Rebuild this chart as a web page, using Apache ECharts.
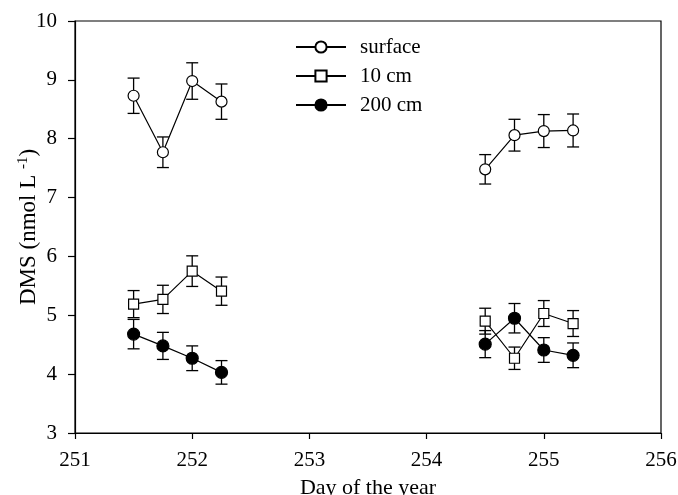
<!DOCTYPE html>
<html>
<head>
<meta charset="utf-8">
<script src="https://cdn.jsdelivr.net/npm/echarts@6/dist/echarts.min.js"></script>
<style>
  html, body { margin: 0; padding: 0; background: #fff; }
  #chart { width: 678px; height: 495px; }
</style>
</head>
<body>
<div id="chart"></div>
<script>
const days = [251.5, 251.75, 252, 252.25, 254.5, 254.75, 255, 255.25];
const surface = [8.73, 7.77, 8.98, 8.63, 7.48, 8.06, 8.13, 8.14];
const surfaceErr = [0.30, 0.26, 0.31, 0.30, 0.25, 0.27, 0.28, 0.28];
const cm10 = [5.19, 5.27, 5.75, 5.41, 4.90, 4.27, 5.03, 4.86];
const cm10Err = [0.23, 0.24, 0.26, 0.24, 0.22, 0.19, 0.22, 0.22];
const cm200 = [4.68, 4.48, 4.27, 4.03, 4.51, 4.95, 4.41, 4.32];
const cm200Err = [0.25, 0.23, 0.21, 0.20, 0.23, 0.25, 0.21, 0.21];
// the two sampling periods are drawn as separate line pieces
const groups = [[0, 4], [4, 8]];

const FONT = 'Liberation Serif';
const chart = echarts.init(document.getElementById('chart'));

const depths = [
  { name: 'surface', vals: surface, err: surfaceErr, symbol: 'circle', size: 11, fill: '#fff' },
  { name: '10 cm', vals: cm10, err: cm10Err, symbol: 'rect', size: 10, fill: '#fff' },
  { name: '200 cm', vals: cm200, err: cm200Err, symbol: 'circle', size: 12, fill: '#000' }
];

function errorBars(vals, err) {
  return {
    type: 'custom',
    z: 1,
    silent: true,
    data: days.map((d, i) => [d, vals[i] - err[i], vals[i] + err[i]]),
    renderItem: function (params, api) {
      const lo = api.coord([api.value(0), api.value(1)]);
      const hi = api.coord([api.value(0), api.value(2)]);
      const w = 6;
      const st = { stroke: '#000', lineWidth: 1.3 };
      return {
        type: 'group',
        children: [
          { type: 'line', shape: { x1: lo[0], y1: lo[1], x2: hi[0], y2: hi[1] }, style: st },
          { type: 'line', shape: { x1: lo[0] - w, y1: lo[1], x2: lo[0] + w, y2: lo[1] }, style: st },
          { type: 'line', shape: { x1: hi[0] - w, y1: hi[1], x2: hi[0] + w, y2: hi[1] }, style: st }
        ]
      };
    }
  };
}

const series = [];
depths.forEach(dp => {
  series.push(errorBars(dp.vals, dp.err));
  groups.forEach(g => {
    series.push({
      name: dp.name,
      type: 'line',
      z: 3,
      symbol: dp.symbol,
      symbolSize: dp.size,
      showAllSymbol: true,
      data: days.slice(g[0], g[1]).map((d, i) => [d, dp.vals[g[0] + i]]),
      lineStyle: { color: '#000', width: 1.2 },
      itemStyle: { color: dp.fill, borderColor: '#000', borderWidth: 1.2 },
      emphasis: { disabled: true }
    });
  });
});

chart.setOption({
  animation: false,
  grid: {
    left: 75, right: 17, top: 21, bottom: 62,
    outerBoundsMode: 'none',
    show: true, borderColor: '#000', borderWidth: 1.2
  },
  legend: {
    data: depths.map(d => d.name),
    orient: 'vertical',
    left: 295,
    top: 35,
    padding: 0,
    itemWidth: 50,
    itemHeight: 14,
    itemGap: 5,
    textStyle: { fontFamily: FONT, fontSize: 21, color: '#000', padding: [0, 0, 0, 9], lineHeight: 24 }
  },
  xAxis: {
    type: 'value',
    min: 251, max: 256, interval: 1,
    name: 'Day of the year',
    nameLocation: 'middle',
    nameGap: 44,
    nameMoveOverlap: false,
    nameTextStyle: { fontFamily: FONT, fontSize: 22, color: '#000' },
    axisLine: { show: true, lineStyle: { color: '#000', width: 1.2 } },
    axisTick: { show: true, length: 6, lineStyle: { color: '#000', width: 1.2 } },
    axisLabel: { fontFamily: FONT, fontSize: 21, color: '#000', margin: 17 },
    splitLine: { show: false }
  },
  yAxis: {
    type: 'value',
    min: 3, max: 10, interval: 1,
    name: 'DMS (nmol L {sup|-1})',
    nameLocation: 'middle',
    nameGap: 34,
    nameMoveOverlap: false,
    nameTextStyle: {
      fontFamily: FONT, fontSize: 23, color: '#000',
      rich: { sup: { fontFamily: FONT, fontSize: 15, color: '#000', verticalAlign: 'top', padding: [0, 0, 10, 0] } }
    },
    axisLine: { show: true, lineStyle: { color: '#000', width: 1.2 } },
    axisTick: { show: true, length: 7, lineStyle: { color: '#000', width: 1.2 } },
    axisLabel: { fontFamily: FONT, fontSize: 21, color: '#000', margin: 18 },
    splitLine: { show: false }
  },
  series: series
});
</script>
</body>
</html>
